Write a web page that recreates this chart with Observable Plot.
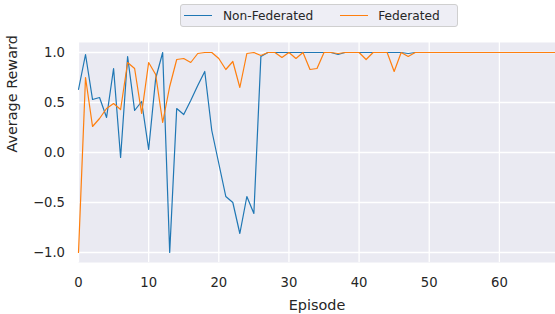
<!DOCTYPE html>
<html><head><meta charset="utf-8">
<script src="https://cdn.jsdelivr.net/npm/d3@7"></script>
<script src="https://cdn.jsdelivr.net/npm/@observablehq/plot@0.6"></script>
<style>
body{margin:0;background:#fff;font-family:"DejaVu Sans",sans-serif;}
#wrap{width:555px;height:314px;position:relative;}
#chart{position:absolute;left:0;top:0;}
#chart svg{display:block;}
#legend{position:absolute;left:180px;top:4px;width:278px;height:23px;box-sizing:border-box;border:1px solid #cfcfcf;border-radius:3px;background:#eeeef5;display:flex;align-items:center;padding-left:3px;font-size:12.2px;color:#262626;z-index:2;white-space:nowrap;}
.sw{display:inline-block;width:28px;height:0;border-top:1.2px solid;}
</style></head><body>
<div id="wrap"><div id="chart"></div><div id="legend"></div></div>
<script>
const seriesNames = ["Non-Federated", "Federated"];
const seriesColors = ["#1f77b4", "#ff7f0e"];
const episodes = [0,1,2,3,4,5,6,7,8,9,10,11,12,13,14,15,16,17,18,19,20,21,22,23,24,25,26,27,28,29,30,31,32,33,34,35,36,37,38,39,40,41,42,43,44,45,46,47,48,49,50,51,52,53,54,55,56,57,58,59,60,61,62,63,64,65,66,67,68];
const nonFederated = [
 0.63, 0.98, 0.53, 0.55, 0.35, 0.84, -0.05, 0.96, 0.42, 0.51,
 0.03, 0.74, 1.0, -1.0, 0.44, 0.38, 0.52, 0.67, 0.81, 0.22,
 -0.11, -0.44, -0.5, -0.81, -0.44, -0.61, 0.96, 1.0, 1.0, 1.0,
 1.0, 1.0, 1.0, 1.0, 1.0, 1.0, 1.0, 0.98, 1.0, 1.0,
 1.0, 1.0, 1.0, 1.0, 1.0, 1.0, 1.0, 0.99, 1.0, 1.0,
 1.0, 1.0, 1.0, 1.0, 1.0, 1.0, 1.0, 1.0, 1.0, 1.0,
 1.0, 1.0, 1.0, 1.0, 1.0, 1.0, 1.0, 1.0, 1.0];
const federated = [
 -1.0, 0.75, 0.26, 0.34, 0.44, 0.49, 0.43, 0.9, 0.84, 0.39,
 0.9, 0.78, 0.3, 0.66, 0.93, 0.94, 0.9, 0.99, 1.0, 1.0,
 0.94, 0.83, 0.91, 0.65, 0.99, 1.0, 0.97, 1.0, 1.0, 0.95,
 1.0, 0.94, 1.0, 0.83, 0.84, 1.0, 1.0, 0.99, 1.0, 1.0,
 1.0, 0.93, 1.0, 1.0, 1.0, 0.81, 1.0, 0.96, 1.0, 1.0,
 1.0, 1.0, 1.0, 1.0, 1.0, 1.0, 1.0, 1.0, 1.0, 1.0,
 1.0, 1.0, 1.0, 1.0, 1.0, 1.0, 1.0, 1.0, 1.0];
const xTicks = [0, 10, 20, 30, 40, 50, 60];
const yTicks = [-1.0, -0.5, 0.0, 0.5, 1.0];
const xLabel = "Episode";
const yLabel = "Average Reward";

const rows = (vals) => episodes.map((e, i) => ({episode: e, value: vals[i]}));
const fmt = d => (d < 0 ? "\u2212" : "") + Math.abs(d).toFixed(1);

const chart = Plot.plot({
  width: 555, height: 314,
  marginTop: 42, marginBottom: 52, marginLeft: 78, marginRight: 0,
  style: {fontFamily: "DejaVu Sans, sans-serif", fontSize: "13.2px", color: "#262626", background: "white"},
  x: {domain: [0, 68]},
  y: {domain: [-1.1, 1.1]},
  marks: [
    Plot.frame({fill: "#EAEAF2", stroke: null}),
    Plot.gridX(xTicks, {stroke: "white", strokeOpacity: 1, strokeWidth: 1.3}),
    Plot.gridY(yTicks, {stroke: "white", strokeOpacity: 1, strokeWidth: 1.3}),
    Plot.line(rows(nonFederated), {x: "episode", y: "value", stroke: seriesColors[0], strokeWidth: 1.2}),
    Plot.line(rows(federated), {x: "episode", y: "value", stroke: seriesColors[1], strokeWidth: 1.2}),
    Plot.axisX(xTicks, {tickSize: 0, tickPadding: 15, label: null, tickFormat: d => String(d)}),
    Plot.axisY(yTicks, {tickSize: 0, tickPadding: 13.5, label: null, tickFormat: fmt}),
    Plot.text([xLabel], {text: d => d, frameAnchor: "bottom", dy: 43, lineAnchor: "middle", fontSize: 14.4, fill: "#262626"}),
    Plot.text([yLabel], {text: d => d, frameAnchor: "left", dx: -65.7, rotate: -90, lineAnchor: "middle", fontSize: 14.4, fill: "#262626"})
  ]
});
document.getElementById("chart").appendChild(chart);

const legend = document.getElementById("legend");
seriesNames.forEach((name, i) => {
  const sw = document.createElement("span");
  sw.className = "sw";
  sw.style.borderTopColor = seriesColors[i];
  sw.style.marginLeft = i === 0 ? "0px" : "27px";
  const t = document.createElement("span");
  t.textContent = name;
  t.style.marginLeft = i === 0 ? "11px" : "10px";
  legend.appendChild(sw);
  legend.appendChild(t);
});
</script>
</body></html>
